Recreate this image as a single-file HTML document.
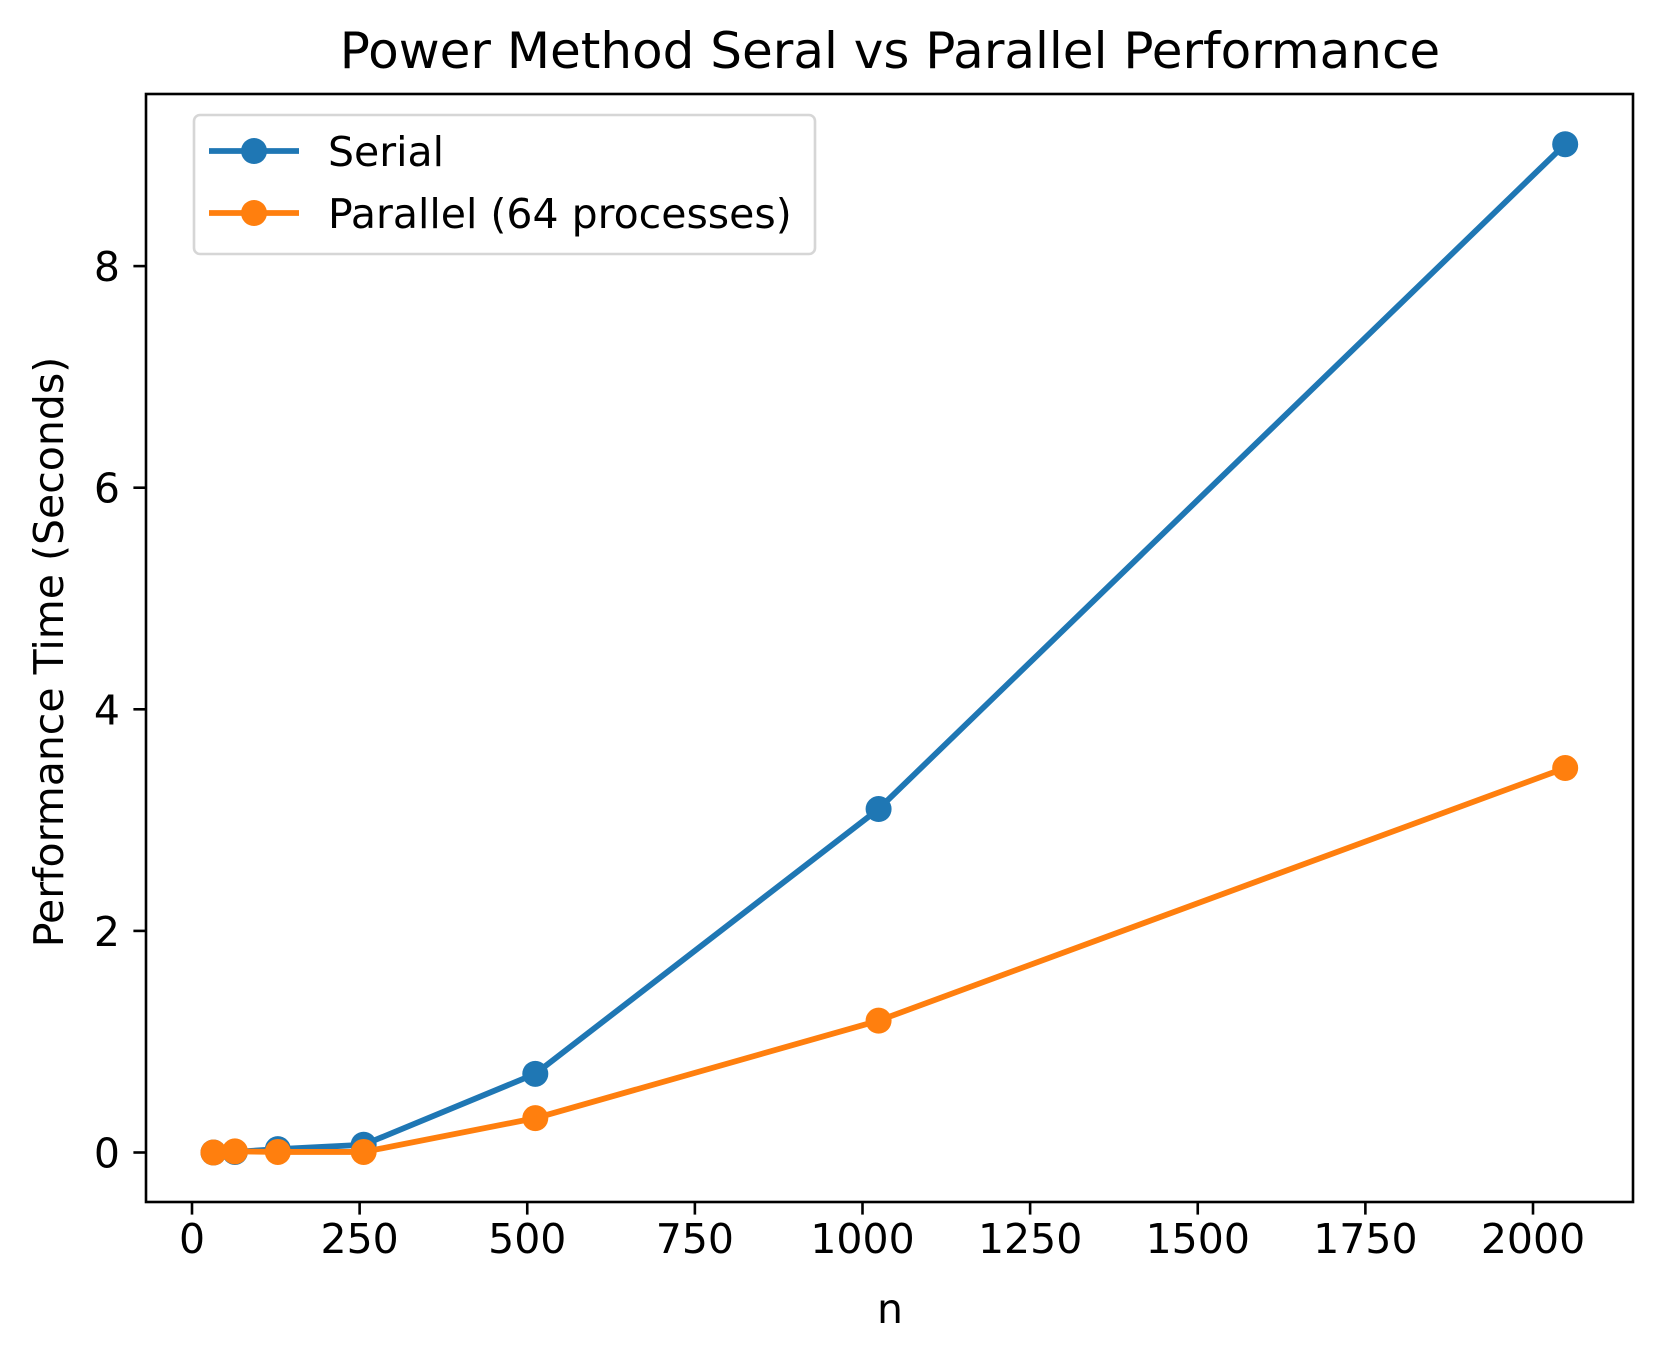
<!DOCTYPE html>
<html><head><meta charset="utf-8"><style>
html,body{margin:0;padding:0;background:#fff}
svg{display:block;font-family:"DejaVu Sans","Liberation Sans",sans-serif}
</style></head><body>
<svg id="chart" width="1662" height="1361" viewBox="0 0 1662 1361">
<rect x="0" y="0" width="1662" height="1361" fill="#fff"/>
<text x="890" y="68" font-size="50" text-anchor="middle" fill="#000">Power Method Seral vs Parallel Performance</text>
<g id="plot"></g>
<rect x="146" y="94" width="1487" height="1108" fill="none" stroke="#000" stroke-width="2.6"/>
<g id="xticks"></g>
<g id="yticks"></g>
<text x="890" y="1323" font-size="41" text-anchor="middle">n</text>
<text transform="translate(63,652) rotate(-90)" font-size="41" text-anchor="middle">Performance Time (Seconds)</text>
<g>
<rect x="194" y="115" width="621" height="139" rx="6" fill="#fff" fill-opacity="0.8" stroke="#d6d6d6" stroke-width="2.6"/>
<g>
<line x1="209" y1="151" x2="299" y2="151" stroke="#1f77b4" stroke-width="5.8"/>
<circle cx="254" cy="151" r="13" fill="#1f77b4"/>
<text x="328" y="166" font-size="41">Serial</text>
</g>
<g>
<line x1="209" y1="213" x2="299" y2="213" stroke="#ff7f0e" stroke-width="5.8"/>
<circle cx="254" cy="213" r="13" fill="#ff7f0e"/>
<text x="328" y="228" font-size="41">Parallel (64 processes)</text>
</g>
</g>
</svg>
<script>
const nValues = [32, 64, 128, 256, 512, 1024, 2048];
const serialTimes = [0.0, 0.005, 0.03, 0.07, 0.71, 3.1, 9.1];
const parallelTimes = [0.0, 0.01, 0.005, 0.005, 0.31, 1.19, 3.47];
const xTickValues = [0, 250, 500, 750, 1000, 1250, 1500, 1750, 2000];
const yTickValues = [0, 2, 4, 6, 8];

const NS = "http://www.w3.org/2000/svg";
function xs(v){ return 192 + (v/2000)*(1533-192); }
function ys(v){ return 1152.5 - v*110.8; }
function mk(tag, attrs, parent){
  const e = document.createElementNS(NS, tag);
  for (const k in attrs) e.setAttribute(k, attrs[k]);
  parent.appendChild(e); return e;
}
const plot = document.getElementById('plot');
function series(vals, color, name){
  const g = mk('g', {}, plot);
  
  
  const pts = nValues.map((n,i)=>xs(n)+','+ys(vals[i])).join(' ');
  const pl = mk('polyline', {points: pts, fill:'none', stroke:color, 'stroke-width':5.8, 'stroke-linejoin':'round', 'stroke-linecap':'square'}, g);
  
  
  nValues.forEach((n,i)=>{
    const c = mk('circle', {cx: xs(n), cy: ys(vals[i]), r: 13, fill: color}, g);
    
    
  });
}
series(serialTimes, '#1f77b4', 'serial');
series(parallelTimes, '#ff7f0e', 'parallel');

const xg = document.getElementById('xticks');
xTickValues.forEach(v=>{
  const x = xs(v);
  const l = mk('line', {x1:x, y1:1202, x2:x, y2:1214.6, stroke:'#000', 'stroke-width':2.6}, xg);
  
  
  const t = mk('text', {x:x, y:1253, 'font-size':41, 'text-anchor':'middle'}, xg);
  t.textContent = v;
  
  
});
const yg = document.getElementById('yticks');
yTickValues.forEach(v=>{
  const y = ys(v);
  const l = mk('line', {x1:133.4, y1:y, x2:146, y2:y, stroke:'#000', 'stroke-width':2.6}, yg);
  
  
  const t = mk('text', {x:120, y:y+15, 'font-size':41, 'text-anchor':'end'}, yg);
  t.textContent = v;
  
  
});
</script>
</body></html>
